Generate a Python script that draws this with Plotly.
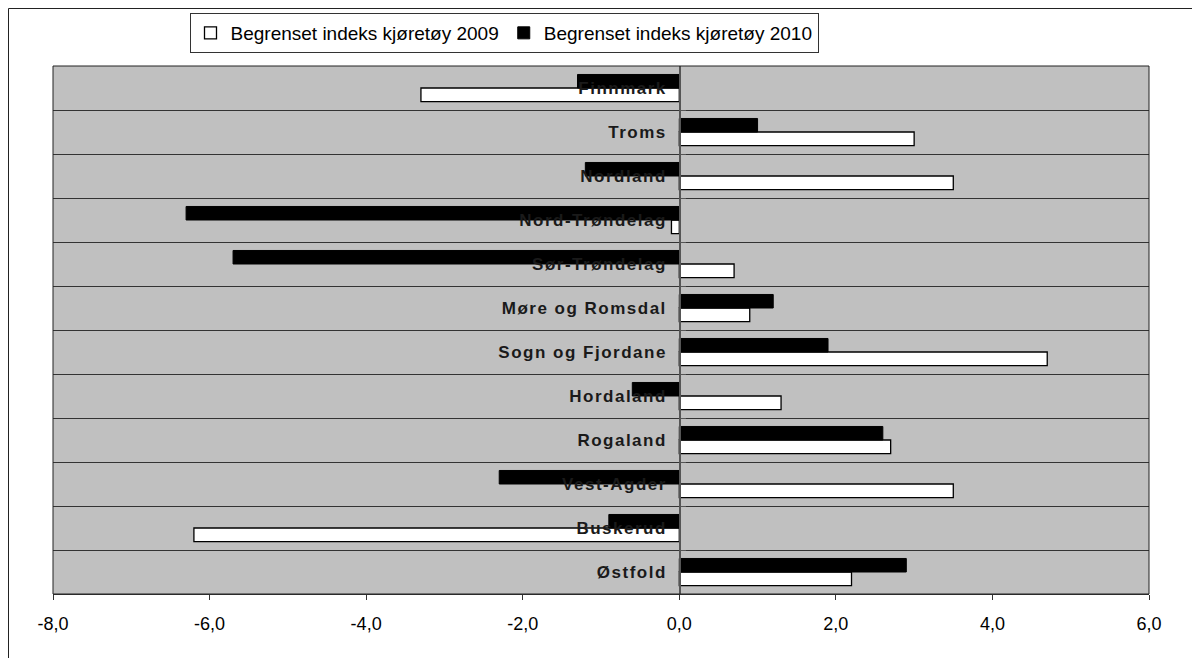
import plotly.graph_objects as go

categories = ["Østfold", "Buskerud", "Vest-Agder", "Rogaland", "Hordaland",
              "Sogn og Fjordane", "Møre og Romsdal", "Sør-Trøndelag",
              "Nord-Trøndelag", "Nordland", "Troms", "Finnmark"]
values_2009 = [2.2, -6.2, 3.5, 2.7, 1.3, 4.7, 0.9, 0.7, -0.1, 3.5, 3.0, -3.3]
values_2010 = [2.9, -0.9, -2.3, 2.6, -0.6, 1.9, 1.2, -5.7, -6.3, -1.2, 1.0, -1.3]
name_2009 = "Begrenset indeks kjøretøy 2009"
name_2010 = "Begrenset indeks kjøretøy 2010"
x_ticks = [-8, -6, -4, -2, 0, 2, 4, 6]
x_tick_labels = ["-8,0", "-6,0", "-4,0", "-2,0", "0,0", "2,0", "4,0", "6,0"]

fig = go.Figure()
fig.add_trace(go.Bar(y=categories, x=values_2009, orientation="h", name=name_2009,
                     marker=dict(color="white", line=dict(color="black", width=1.3))))
fig.add_trace(go.Bar(y=categories, x=values_2010, orientation="h", name=name_2010,
                     marker=dict(color="black", line=dict(color="black", width=1))))

W, H = 1192, 658
L, R, T, B = 53, 43, 66, 64
pw, ph = W - L - R, H - T - B

def px_to_paper_x(px):
    return (px - L) / pw

def px_to_paper_y(py):
    return 1 - (py - T) / ph

fig.update_layout(
    width=W, height=H,
    margin=dict(l=L, r=R, t=T, b=B, pad=0),
    paper_bgcolor="white",
    plot_bgcolor="#c0c0c0",
    barmode="group",
    bargap=0.385,
    bargroupgap=0,
    font=dict(family="Liberation Sans, Arial, sans-serif", color="black", size=17),
    showlegend=True,
    legend=dict(orientation="h", x=px_to_paper_x(504), y=px_to_paper_y(13),
                xanchor="center", yanchor="top",
                bordercolor="#333", borderwidth=1, bgcolor="white",
                font=dict(size=19), traceorder="normal",
                itemwidth=30, tracegroupgap=0),
    xaxis=dict(range=[-8, 6], tickvals=x_ticks, ticktext=x_tick_labels,
               showgrid=False, zeroline=False, showline=True, linecolor="#333",
               linewidth=1, ticks="outside", ticklen=5, tickcolor="#333",
               tickfont=dict(size=18), ticklabelstandoff=8, fixedrange=True),
    yaxis=dict(type="category", categoryorder="array", categoryarray=categories,
               anchor="free", position=px_to_paper_x(680), side="left",
               showline=True, linecolor="#555", linewidth=1.5,
               ticks="inside", ticklen=5, tickcolor="#555", tickson="boundaries",
               showgrid=True, gridcolor="#333", gridwidth=1,
               tickfont=dict(size=17, family="Liberation Sans, Arial, sans-serif",
                             color="#1a1a1a", weight="bold"),
               ticklabelstandoff=9, layer="above traces", fixedrange=True),
    shapes=[
        dict(type="rect", xref="paper", yref="paper", x0=0, x1=1, y0=0, y1=1,
             line=dict(color="#222", width=1), layer="above"),
        dict(type="rect", xref="paper", yref="paper",
             x0=px_to_paper_x(8.5), x1=px_to_paper_x(1196),
             y0=px_to_paper_y(700), y1=px_to_paper_y(8.5),
             line=dict(color="#222", width=1), layer="above"),
    ],
)

post = """
document.body.style.margin = '0';
var gd = document.getElementsByClassName('plotly-graph-div')[0];
function spaceLabels(){
  gd.querySelectorAll('g.ytick text').forEach(function(t){
    t.setAttribute('letter-spacing','1.5px');
    t.style.letterSpacing = '1.5px';
  });
}
spaceLabels();
gd.on && gd.on('plotly_afterplot', spaceLabels);
"""
fig.write_html("out.html", post_script=post, config={"displayModeBar": False})
